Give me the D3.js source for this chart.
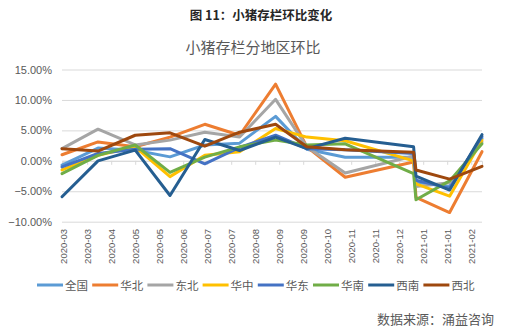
<!DOCTYPE html>
<html>
<head>
<meta charset="utf-8">
<script src="https://cdn.jsdelivr.net/npm/d3@7"></script>
<style>
  html, body { margin: 0; padding: 0; background: #ffffff; }
  svg { display: block; }
</style>
</head>
<body>
<svg id="chart" width="508" height="332"></svg>
<script>
// ---- data ----
const dates = ["2020-03-10","2020-04-09","2020-05-10","2020-06-08","2020-07-07","2020-08-05",
               "2020-09-04","2020-09-30","2020-11-01","2020-12-28","2020-12-30","2021-01-27","2021-02-23"];
const seriesNames = ["全国","华北","东北","华中","华东","华南","西南","西北"];
const vQuanguo = [-0.7, 2.1, 1.75, 0.65, 2.6, 2.9, 7.3, 1.9, 0.6, 0.6, -3.5, -4.2, 3.7];
const vHuabei  = [1.0, 3.1, 2.3, 3.9, 6.0, 4.2, 12.6, 2.3, -2.7, -0.2, -6.0, -8.5, 1.5];
const vDongbei = [2.0, 5.2, 2.6, 3.4, 4.7, 3.9, 10.1, 2.3, -2.0, 0.8, -4.2, -3.6, 3.1];
const vHuazhong= [-1.5, 0.9, 2.3, -2.6, 0.9, 1.5, 5.3, 3.9, 3.3, 0.0, -3.8, -5.8, 3.4];
const vHuadong = [-1.0, 1.2, 1.9, 2.0, -0.5, 2.2, 4.2, 2.0, 1.8, 1.2, -3.2, -4.5, 4.0];
const vHuanan  = [-2.1, 0.9, 2.6, -1.9, 0.6, 2.3, 3.4, 2.6, 2.8, -2.1, -6.4, -3.3, 2.8];
const vXinan   = [-5.9, 0.0, 1.75, -5.7, 3.5, 1.7, 3.9, 2.0, 3.7, 2.3, -2.5, -4.8, 4.3];
const vXibei   = [2.0, 1.6, 4.2, 4.6, 2.4, 4.7, 6.0, 2.3, 1.8, 1.4, -1.5, -3.0, -0.9];
const seriesValues = [vQuanguo, vHuabei, vDongbei, vHuazhong, vHuadong, vHuanan, vXinan, vXibei];
const colors = ["#5B9BD5","#ED7D31","#A5A5A5","#FFC000","#4472C4","#70AD47","#255E91","#9E480E"];
const yTicks = [-10, -5, 0, 5, 10, 15];
const xTickDates = ["2020-03-11","2020-03-31","2020-04-20","2020-05-10","2020-05-30","2020-06-19",
                    "2020-07-09","2020-07-29","2020-08-18","2020-09-07","2020-09-27","2020-10-17",
                    "2020-11-06","2020-11-26","2020-12-16","2021-01-05","2021-01-25","2021-02-14"];

const titleText = "图 11：小猪存栏环比变化";
const subtitleText = "小猪存栏分地区环比";
const sourceText = "数据来源：涌益咨询";

// ---- drawing ----
(function draw() {
  const parse = d3.timeParse("%Y-%m-%d");
  const fmt = d3.timeFormat("%Y-%m");
  const svg = d3.select("#chart");
  const cjk = "'Noto Sans CJK SC', 'Noto Sans', sans-serif";
  const latin = "'Liberation Sans', Arial, 'Noto Sans CJK SC', sans-serif";

  const pL = 62, pR = 482, pT = 69.5, pB = 221.7;
  const x = d3.scaleTime().domain([parse(dates[0]), parse(dates[dates.length - 1])]).range([pL, pR]);
  const y = d3.scaleLinear().domain([-10, 15]).range([pB, pT]);

  svg.append("text").attr("x", 261).attr("y", 20).attr("text-anchor", "middle")
    .attr("font-family", cjk).attr("font-weight", "bold").attr("font-size", 12.5)
    .attr("fill", "#262626").text(titleText);

  svg.append("text").attr("x", 253).attr("y", 53).attr("text-anchor", "middle")
    .attr("font-family", cjk).attr("font-size", 15).attr("fill", "#595959").text(subtitleText);

  // gridlines + y labels
  const yAxis = d3.axisLeft(y).tickValues(yTicks).tickSize(-(pR - pL))
    .tickFormat(d => d3.format(".2f")(d) + "%").tickPadding(10);
  const gy = svg.append("g").attr("transform", `translate(${pL},0)`).call(yAxis);
  gy.select(".domain").remove();
  gy.selectAll(".tick line").attr("stroke", "#d9d9d9").attr("stroke-width", 1);
  gy.selectAll(".tick text").attr("font-family", latin).attr("font-size", 11).attr("fill", "#595959");

  // x axis at 0 with ticks
  const xt = xTickDates.map(parse);
  const xAxis = d3.axisBottom(x).tickValues(xt).tickSize(4).tickFormat("");
  const gx = svg.append("g").attr("transform", `translate(0,${y(0)})`).call(xAxis);
  gx.select(".domain").attr("stroke", "#d9d9d9");
  gx.selectAll(".tick line").attr("stroke", "#d9d9d9");

  // x labels at bottom, rotated
  svg.append("g").selectAll("text").data(xt).join("text")
    .attr("transform", d => `translate(${x(d) + 3.5},229) rotate(-90)`)
    .attr("text-anchor", "end")
    .attr("font-family", latin).attr("font-size", 9.5).attr("fill", "#595959")
    .text(d => fmt(d));

  // lines
  const line = d3.line().x((d, i) => x(parse(dates[i]))).y(d => y(d));
  seriesValues.forEach((vals, k) => {
    svg.append("path").datum(vals).attr("d", line)
      .attr("fill", "none").attr("stroke", colors[k]).attr("stroke-width", 3)
      .attr("stroke-linejoin", "round").attr("stroke-linecap", "round");
  });

  // legend
  const leg = svg.append("g").attr("transform", "translate(37,285)");
  seriesNames.forEach((name, k) => {
    const g = leg.append("g").attr("transform", `translate(${k * 55.2},0)`);
    g.append("line").attr("x1", 0).attr("x2", 26).attr("y1", 0).attr("y2", 0)
      .attr("stroke", colors[k]).attr("stroke-width", 3);
    g.append("text").attr("x", 28).attr("y", 4.5).attr("font-family", cjk)
      .attr("font-size", 11.5).attr("fill", "#595959").text(name);
  });

  svg.append("text").attr("x", 494).attr("y", 324).attr("text-anchor", "end")
    .attr("font-family", cjk).attr("font-size", 13).attr("fill", "#595959").text(sourceText);
})();
</script>
</body>
</html>
